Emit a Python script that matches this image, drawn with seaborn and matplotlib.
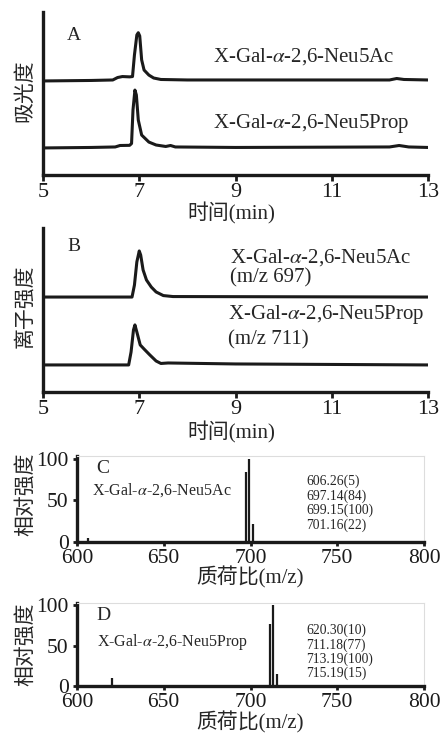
import matplotlib
matplotlib.use("Agg")
import matplotlib.pyplot as plt
import seaborn as sns

# ---------------------------------------------
# data
# ---------------------------------------------

# A: absorbance traces (time in min, arbitrary offset units)
a_ac_t = [5.0, 6.0, 6.45, 6.55, 6.65, 6.8, 6.86, 6.9, 6.95, 6.98, 7.01, 7.05, 7.1,
          7.2, 7.3, 7.45, 8.0, 10.0, 12.2, 12.35, 12.5, 13.0]
a_ac_v = [57.7, 58.0, 58.3, 59.8, 60.4, 60.2, 60.4, 73.6, 85.9, 87.3, 85.3, 70.6, 64.4,
          61.3, 59.5, 58.6, 58.3, 58.3, 58.3, 59.2, 58.6, 58.3]
a_pr_t = [5.0, 6.0, 6.5, 6.6, 6.8, 6.84, 6.87, 6.91, 6.94, 6.98, 7.05, 7.2, 7.35,
          7.55, 7.65, 7.75, 9.0, 12.2, 12.4, 12.6, 13.0]
a_pr_v = [16.6, 16.9, 17.2, 18.1, 18.2, 19.3, 39.9, 52.1, 49.1, 33.7, 24.5, 20.2, 18.4,
          17.5, 18.1, 17.2, 16.9, 17.2, 18.1, 17.2, 16.9]

# B: extracted ion traces
b_ac_t = [5.0, 6.85, 6.9, 6.95, 7.0, 7.03, 7.08, 7.15, 7.25, 7.35, 7.5, 7.7, 13.0]
b_ac_v = [57.9, 57.9, 65.2, 79.3, 86.0, 83.5, 74.4, 68.3, 64.0, 61.0, 58.8, 58.2, 57.9]
b_pr_t = [5.0, 6.78, 6.83, 6.88, 6.91, 6.95, 7.02, 7.1, 7.22, 7.35, 7.45, 7.6, 9.0, 13.0]
b_pr_v = [16.5, 16.5, 24.4, 37.8, 40.9, 36.6, 28.7, 26.2, 22.6, 18.9, 17.4, 17.7, 17.1, 16.5]

# C / D: mass spectra peaks
mz_c = [606.26, 697.14, 699.15, 701.16]
int_c = [5, 84, 100, 22]
mz_d = [620.30, 711.18, 713.19, 715.19]
int_d = [10, 77, 100, 15]

time_ticks = [5, 7, 9, 11, 13]
mz_ticks = [600, 650, 700, 750, 800]

# ---------------------------------------------
# style
# ---------------------------------------------
sns.set_style("ticks")
plt.rcParams['font.family'] = ['Liberation Serif', 'Noto Sans CJK SC']
plt.rcParams['mathtext.fontset'] = 'stix'
plt.rcParams['axes.linewidth'] = 2.4
plt.rcParams['axes.edgecolor'] = '#1a1a1a'

INK = '#1a1a1a'
W, H = 441, 733
fig = plt.figure(figsize=(W / 100, H / 100), dpi=100)


def px_axes(left, right, top, bottom):
    return fig.add_axes([left / W, 1 - bottom / H, (right - left) / W, (bottom - top) / H])


def style_chrom(ax, ylabel, letter, letter_y, xl_y):
    ax.set_xlim(5, 13)
    ax.set_ylim(0, 100)
    ax.set_xticks(time_ticks)
    ax.set_yticks([])
    ax.tick_params(axis='x', labelsize=16, length=4, width=2, pad=2, colors=INK)
    ax.set_xlabel("时间(min)", fontsize=15)
    ax.xaxis.set_label_coords(0.49, xl_y)
    ax.set_ylabel(ylabel, fontsize=15)
    ax.yaxis.set_label_coords(-0.02, 0.52)
    sns.despine(ax=ax)
    ax.text(5.5, letter_y, letter, fontsize=14, va='center', ha='left')


# ---------------- A ----------------
axA = px_axes(43, 428, 12, 175)
sns.lineplot(x=a_ac_t, y=a_ac_v, ax=axA, color=INK, lw=2.2)
sns.lineplot(x=a_pr_t, y=a_pr_v, ax=axA, color=INK, lw=2.2)
style_chrom(axA, "吸光度", "A", 85.5, -0.17)
axA.text(8.53, 72.4, "X-Gal-$\\alpha$-2,6-Neu5Ac", fontsize=15, va='center')
axA.text(8.53, 31.9, "X-Gal-$\\alpha$-2,6-Neu5Prop", fontsize=15, va='center')

# ---------------- B ----------------
axB = px_axes(43, 428, 228, 392)
sns.lineplot(x=b_ac_t, y=b_ac_v, ax=axB, color=INK, lw=2.2)
sns.lineplot(x=b_pr_t, y=b_pr_v, ax=axB, color=INK, lw=2.2)
style_chrom(axB, "离子强度", "B", 88.5, -0.18)
axB.text(8.89, 81.7, "X-Gal-$\\alpha$-2,6-Neu5Ac", fontsize=15, va='center')
axB.text(8.89, 69.5, "(m/z 697)", fontsize=15, va='center')
axB.text(8.84, 47.0, "X-Gal-$\\alpha$-2,6-Neu5Prop", fontsize=15, va='center')
axB.text(8.84, 31.7, "(m/z 711)", fontsize=15, va='center')


# ---------------- C / D ----------------
def style_ms(ax, mz, inten, letter, name, name_y, list_ys, xl_y, yl_y):
    ax.vlines(mz, 0, inten, color=INK, lw=1.6)
    ax.set_xlim(600, 800)
    ax.set_ylim(0, 103)
    ax.set_xticks(mz_ticks)
    ax.set_yticks([0, 50, 100])
    ax.tick_params(labelsize=15.5, length=3, width=2, colors=INK)
    ax.tick_params(axis='x', pad=2)
    ax.tick_params(axis='y', pad=3)
    for side in ['top', 'right']:
        ax.spines[side].set_color('#dddddd')
        ax.spines[side].set_linewidth(0.8)
    ax.set_xlabel("质荷比(m/z)", fontsize=15)
    ax.xaxis.set_label_coords(0.5, xl_y)
    ax.set_ylabel("相对强度", fontsize=15)
    ax.yaxis.set_label_coords(-0.118, yl_y)
    ax.text(611, 88, letter, fontsize=14, va='center', ha='left')
    ax.text(name[0], name_y, name[1], fontsize=11.5, va='center')
    for m, i, yy in zip(mz, inten, list_ys):
        ax.text(732, yy, f"{m:.2f}({i})", fontsize=9.8, va='center')


axC = px_axes(77, 424, 456, 542)
style_ms(axC, mz_c, int_c, "C", (608.6, "X-Gal-$\\alpha$-2,6-Neu5Ac"), 62.3,
         [72.2, 55.1, 38.3, 20.4], -0.28, 0.55)

axD = px_axes(77, 424, 603, 686)
style_ms(axD, mz_d, int_d, "D", (611.5, "X-Gal-$\\alpha$-2,6-Neu5Prop"), 54.6,
         [69.5, 50.9, 33.5, 16.1], -0.31, 0.5)

fig.savefig("out.png", dpi=100)
